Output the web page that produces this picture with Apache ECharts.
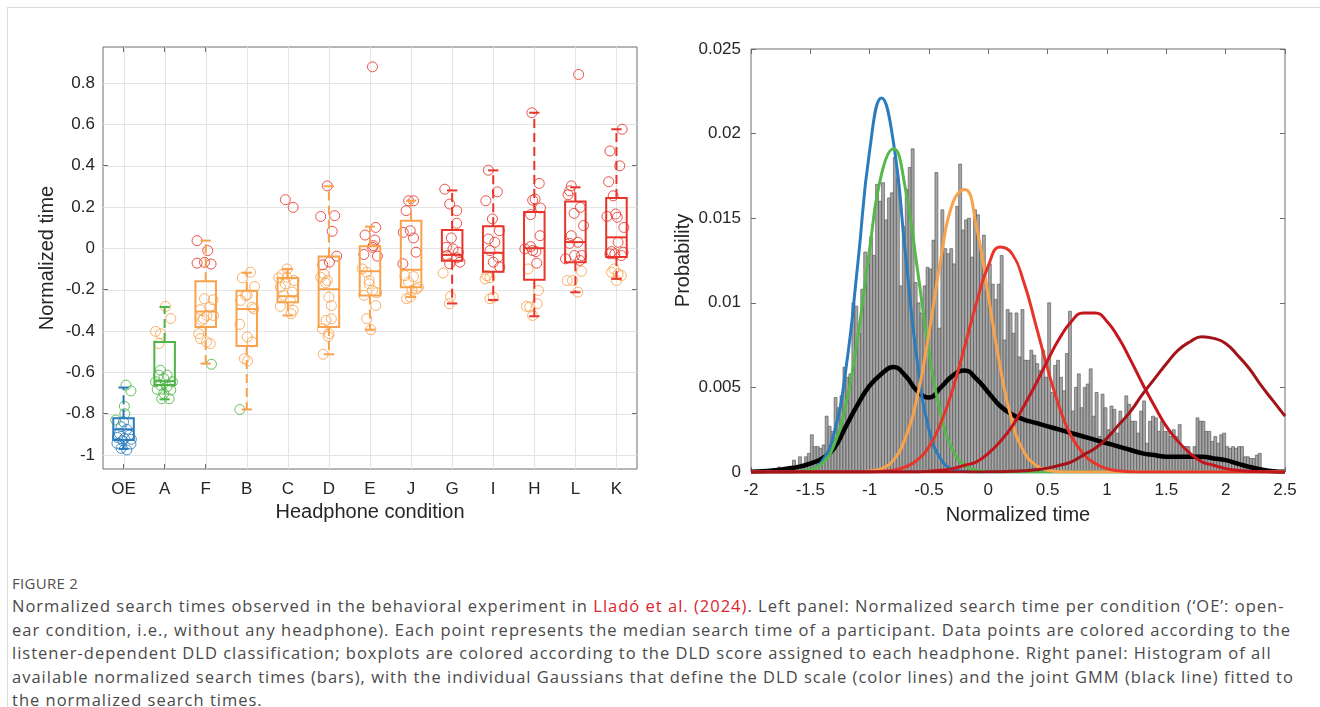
<!DOCTYPE html>
<html>
<head>
<meta charset="utf-8">
<title>Figure 2</title>
<script src="https://cdn.jsdelivr.net/npm/echarts@6/dist/echarts.min.js"></script>
<style>
  html, body { margin: 0; padding: 0; background: #fff; }
  #frame { position: absolute; left: 7px; top: 7px; width: 1330px; height: 720px;
           border-top: 1px solid #dcdcdc; border-left: 1px solid #dcdcdc; }
  #chart { position: absolute; left: 0; top: 0; width: 1320px; height: 545px; }
  #caption { position: absolute; left: 12px; top: 572px; font-family: 'Open Sans', sans-serif; color: #4a4a4a; }
  #caption .fig { font-size: 15px; line-height: 22px; color: #505050; letter-spacing: 0.3px; }
  #caption .txt { font-size: 16.5px; line-height: 23.5px; white-space: nowrap; }
  #caption .ref { color: #d9262e; }
</style>
</head>
<body>
<div id="frame"></div>
<div id="chart"></div>
<div id="caption">
  <div class="fig">FIGURE 2</div>
  <div class="txt" id="line1">Normalized search times observed in the behavioral experiment in <span class="ref">Lladó et al. (2024)</span>. Left panel: Normalized search time per condition (‘OE’: open-</div>
  <div class="txt">ear condition, i.e., without any headphone). Each point represents the median search time of a participant. Data points are colored according to the</div>
  <div class="txt">listener-dependent DLD classification; boxplots are colored according to the DLD score assigned to each headphone. Right panel: Histogram of all</div>
  <div class="txt">available normalized search times (bars), with the individual Gaussians that define the DLD scale (color lines) and the joint GMM (black line) fitted to</div>
  <div class="txt">the normalized search times.</div>
</div>
<script>
  // ---- left panel: headphone conditions ----
  const categories = ['OE', 'A', 'F', 'B', 'C', 'D', 'E', 'J', 'G', 'I', 'H', 'L', 'K'];
  const leftTicks = [-1, -0.8, -0.6, -0.4, -0.2, 0, 0.2, 0.4, 0.6, 0.8];

  // boxplot statistics per condition
  const boxLow  = [-0.971, -0.731, -0.558, -0.78, -0.325, -0.513, -0.394, -0.236, -0.267, -0.25, -0.329, -0.213, -0.148];
  const boxQ1   = [-0.928, -0.662, -0.381, -0.473, -0.261, -0.381, -0.228, -0.188, -0.06, -0.114, -0.152, -0.068, -0.042];
  const boxMed  = [-0.876, -0.643, -0.306, -0.294, -0.232, -0.198, -0.111, -0.104, -0.032, -0.022, 0.0, 0.03, 0.053];
  const boxQ3   = [-0.823, -0.453, -0.159, -0.205, -0.144, -0.04, 0.01, 0.133, 0.089, 0.107, 0.175, 0.226, 0.243];
  const boxHigh = [-0.674, -0.284, 0.037, -0.118, -0.1, 0.3, 0.105, 0.23, 0.28, 0.377, 0.656, 0.295, 0.576];
  const boxClass = [0, 1, 2, 2, 2, 2, 2, 2, 3, 3, 3, 3, 3];   // DLD score of the headphone

  // participant medians, [condition position + jitter, normalized time], by DLD class
  const ptsBlue = [[0.94,-0.863],[1.08,-0.876],[0.9,-0.896],[1.14,-0.904],[1.02,-0.92],[0.84,-0.944],[1.18,-0.947],
    [0.94,-0.968],[1.08,-0.976],[0.98,-0.931],[1.19,-0.924],[0.85,-0.915],[1.0,-0.84]];
  const ptsGreen = [[1.06,-0.662],[1.18,-0.69],[1.02,-0.764],[1.03,-0.80],[0.81,-0.831],
    [1.9,-0.59],[1.86,-0.614],[2.06,-0.614],[1.98,-0.63],[1.78,-0.646],[2.19,-0.646],[1.9,-0.662],[2.06,-0.67],
    [2.15,-0.686],[1.98,-0.702],[1.93,-0.728],[2.11,-0.728],[1.82,-0.683],
    [3.14,-0.561],[3.83,-0.78]];
  const ptsOrange = [[2.02,-0.281],[2.15,-0.34],[1.78,-0.402],[1.9,-0.413],[1.86,-0.461],
    [2.97,-0.244],[3.18,-0.249],[3.1,-0.284],[2.87,-0.297],[3.03,-0.325],[3.19,-0.325],[2.95,-0.341],[2.91,-0.349],
    [2.83,-0.413],[2.87,-0.437],[3.02,-0.453],[3.11,-0.461],
    [4.09,-0.116],[3.89,-0.143],[4.19,-0.185],[4.01,-0.225],[3.97,-0.228],[3.85,-0.252],[4.13,-0.285],[4.17,-0.293],
    [3.83,-0.368],[4.01,-0.429],[4.13,-0.453],[3.94,-0.534],[4.02,-0.545],
    [4.98,-0.1],[4.86,-0.127],[4.78,-0.143],[5.15,-0.156],[4.94,-0.172],[4.82,-0.188],[5.11,-0.212],[4.9,-0.228],
    [5.06,-0.252],[4.82,-0.281],[5.13,-0.3],[5.08,-0.317],[4.98,-0.14],
    [5.88,-0.124],[5.92,-0.167],[5.96,-0.156],[6.0,-0.236],[6.06,-0.277],[5.93,-0.349],[6.06,-0.341],[5.84,-0.389],
    [6.0,-0.413],[5.98,-0.426],[5.86,-0.513],[5.8,-0.14],
    [6.81,-0.1],[6.92,-0.116],[6.98,-0.156],[6.98,-0.172],[7.06,-0.204],[7.16,-0.215],[6.85,-0.228],[7.14,-0.277],
    [6.92,-0.341],[7.02,-0.394],
    [7.85,-0.132],[8.06,-0.137],[7.94,-0.164],[8.18,-0.188],[8.02,-0.204],[7.98,-0.236],[8.14,-0.196],[7.89,-0.244],
    [8.78,-0.12],[8.96,-0.233],[8.93,-0.268],
    [9.84,-0.132],[9.92,-0.143],[9.8,-0.148],[10.0,-0.236],[9.92,-0.244],
    [10.85,-0.1],[11.1,-0.204],[10.81,-0.281],[10.89,-0.284],[11.07,-0.268],[10.96,-0.325],
    [12.15,-0.111],[11.8,-0.156],[11.93,-0.156],[12.06,-0.212],
    [12.94,-0.1],[12.88,-0.116],[13.04,-0.124],[13.12,-0.132],[13.0,-0.156]];
  const ptsRed = [[2.79,0.037],[3.05,-0.011],[2.79,-0.072],[2.97,-0.068],[3.13,-0.076],
    [4.94,0.235],[5.13,0.198],
    [5.96,0.302],[5.8,0.154],[6.14,0.158],[6.08,0.082],[6.19,-0.038],[6.01,-0.067],[5.85,-0.08],
    [7.06,0.878],[7.14,0.101],[6.88,0.064],[7.12,0.04],[7.08,0.013],[7.06,0.005],[6.85,-0.03],[7.18,-0.038],
    [7.94,0.23],[8.06,0.23],[7.88,0.182],[7.81,0.077],[7.98,0.085],[8.06,0.05],[8.12,-0.019],[7.8,-0.075],
    [8.82,0.286],[8.94,0.214],[9.11,0.182],[9.11,0.121],[8.98,0.05],[8.86,0.005],[9.02,-0.003],[9.15,-0.019],
    [8.88,-0.035],[9.11,-0.046],[9.19,-0.067],[8.94,-0.075],
    [9.88,0.378],[10.1,0.273],[9.82,0.23],[9.98,0.142],[10.15,0.085],[9.88,0.045],[10.04,0.029],[9.92,-0.011],
    [10.12,-0.043],[10.0,-0.067],[10.16,-0.091],
    [10.94,0.656],[11.12,0.314],[10.96,0.233],[11.02,0.238],[11.15,0.195],[10.91,0.163],[11.14,0.061],[10.77,-0.003],
    [10.96,-0.011],[11.04,-0.016],[11.06,-0.072],[10.91,0.008],
    [12.08,0.841],[11.9,0.302],[11.86,0.278],[11.82,0.259],[12.12,0.198],[11.97,0.169],[12.2,0.11],[11.9,0.061],
    [12.06,0.029],[11.86,0.024],[11.98,-0.035],[12.15,-0.035],[11.76,-0.051],[12.11,-0.059],
    [13.14,0.576],[12.84,0.471],[13.08,0.399],[12.81,0.322],[12.92,0.254],[12.77,0.154],[12.98,0.166],[13.02,0.15],
    [13.18,0.101],[13.04,0.029],[13.16,-0.019],[12.88,-0.016],[13.12,-0.035],[12.96,-0.027],[12.84,-0.027]];

  // ---- right panel: histogram + GMM ----
  const binStart = -1.8;
  const binWidth = 0.025;
  const histHeights = [
    0.0002,0.0003,0.0001,0.0001,0.0002,0.0002,0.0007,0.0004,0.0009,0.0004,
    0.0009,0.0011,0.0022,0.0015,0.0015,0.0014,0.0016,0.0033,0.0027,0.0024,
    0.0044,0.0038,0.0045,0.0062,0.0056,0.0058,0.0100,0.0098,0.0082,0.0108,
    0.0130,0.0123,0.0139,0.0128,0.0170,0.0160,0.0171,0.0149,0.0162,0.0165,
    0.0186,0.0173,0.0110,0.0145,0.0167,0.0180,0.0191,0.0112,0.0100,0.0094,
    0.0110,0.0121,0.0120,0.0137,0.0177,0.0085,0.0155,0.0132,0.0129,0.0132,
    0.0123,0.0157,0.0182,0.0143,0.0149,0.0150,0.0127,0.0155,0.0152,0.0130,
    0.0140,0.0107,0.0123,0.0111,0.0102,0.0111,0.0128,0.0078,0.0096,0.0094,
    0.0082,0.0094,0.0068,0.0096,0.0066,0.0066,0.0072,0.0069,0.0064,0.0060,
    0.0072,0.0056,0.0100,0.0047,0.0063,0.0066,0.0056,0.0048,0.0070,0.0095,
    0.0036,0.0050,0.0058,0.0038,0.0050,0.0052,0.0061,0.0033,0.0047,0.0021,
    0.0046,0.0038,0.0025,0.0039,0.0037,0.0023,0.0036,0.0030,0.0045,0.0040,
    0.0030,0.0030,0.0023,0.0036,0.0042,0.0017,0.0030,0.0033,0.0032,0.0024,
    0.0030,0.0024,0.0024,0.0021,0.0025,0.0021,0.0028,0.0015,0.0015,0.0015,
    0.0009,0.0015,0.0032,0.0030,0.0030,0.0024,0.0024,0.0018,0.0021,0.0017,
    0.0022,0.0023,0.0015,0.0014,0.0015,0.0014,0.0015,0.0015,0.0009,0.0009,
    0.0008,0.0008,0.0010,0.0011];

  const curveX = [-2,-1.9,-1.8,-1.7,-1.6,-1.5,-1.4,-1.3,-1.2,-1.1,-1,-0.9,-0.8,-0.7,-0.6,-0.5,-0.4,-0.3,-0.2,-0.1,
    0,0.1,0.2,0.3,0.4,0.5,0.6,0.7,0.8,0.9,1,1.1,1.2,1.3,1.4,1.5,1.6,1.7,1.8,1.9,2,2.1,2.2,2.3,2.4,2.5];
  const gaussBlue = [0,0,0,0,0.00002,0.00014,0.00065,0.0023,0.0061,0.0123,0.019,0.0221,0.0195,0.013,0.0066,0.0025,
    0.00075,0.00016,0.00003,0,0,0,0,0,0,0,0,0,0,0,0,0,0,0,0,0,0,0,0,0,0,0,0,0,0,0];
  const gaussGreen = [0,0,0,0,0.00003,0.00014,0.0005,0.0016,0.004,0.008,0.0132,0.0176,0.0191,0.0168,0.0121,0.0071,
    0.0034,0.0013,0.0004,0.0001,0.00002,0,0,0,0,0,0,0,0,0,0,0,0,0,0,0,0,0,0,0,0,0,0,0,0,0];
  const gaussOrange = [0,0,0,0,0,0,0,0,0,0,0.00006,0.0002,0.0007,0.002,0.0044,0.0082,0.0126,0.0159,0.0167,0.0145,
    0.0104,0.0062,0.003,0.0012,0.0004,0.0001,0.00002,0,0,0,0,0,0,0,0,0,0,0,0,0,0,0,0,0,0,0];
  const gaussRed1 = [0,0,0,0,0,0,0,0,0,0,0,0.00004,0.0001,0.0003,0.0007,0.0015,0.0029,0.0049,0.0074,0.01,
    0.0122,0.0133,0.0129,0.0112,0.0087,0.0061,0.0038,0.0021,0.0011,0.0005,0.0002,0.00007,0.00002,0,0,0,0,0,0,0,0,0,0,0,0,0];
  const gaussRed2 = [0,0,0,0,0,0,0,0,0,0,0,0,0,0,0,0.00005,0.0001,0.0002,0.0004,0.0006,
    0.0011,0.0018,0.0027,0.0039,0.0052,0.0066,0.0079,0.0089,0.0094,0.0094,0.0089,0.0079,0.0066,0.0052,0.0039,
    0.0027,0.0018,0.0011,0.0006,0.0004,0.0002,0.0001,0.00005,0.00002,0,0];
  const gaussRed3 = [0,0,0,0,0,0,0,0,0,0,0,0,0,0,0,0,0,0,0,0,
    0.00001,0.00002,0.00004,0.00007,0.00013,0.00023,0.0004,0.0006,0.001,0.0014,0.002,0.0028,0.0036,0.0046,0.0055,
    0.0064,0.0072,0.0077,0.008,0.0079,0.0076,0.0069,0.0061,0.0051,0.0042,0.0033];
  const gmmJoint = [0.00002,0.00005,0.0001,0.0002,0.0003,0.0005,0.0008,0.0014,0.0027,0.004,0.0051,0.0058,0.0062,0.0057,
    0.0048,0.0044,0.005,0.0057,0.006,0.0055,0.0047,0.0039,0.0034,0.0031,0.0029,0.0027,0.0025,0.0023,0.0021,0.0019,
    0.0017,0.0015,0.0013,0.0011,0.001,0.0009,0.0009,0.0009,0.0009,0.0008,0.0007,0.0005,0.0003,0.00015,0.00005,0.00002];

  // ---- styling ----
  const classColors = ['#2b7cbd', '#4fb447', '#f9a24c', '#e8352b'];
  const curveColors = ['#2b7cbd', '#55b84a', '#f9a24c', '#e8352b', '#c4161c', '#a31419'];
  const FONT = 'Liberation Sans';
  const TXT = '#262626';
  const FRAME = '#6e6e6e';
  const GRIDLINE = '#e4e4e4';
  const BOX_HALF = 0.25, CAP_HALF = 0.125;
  const catPos = categories.map((c, i) => i + 1);
  const X0_MIN = 0.5, X0_MAX = 13.5, Y0_MIN = -1.068, Y0_MAX = 0.974;

  const chart = echarts.init(document.getElementById('chart'), null, { renderer: 'canvas' });

  function renderGridLines(params, api) {
    const st = { stroke: GRIDLINE, lineWidth: 1 };
    const kids = [];
    leftTicks.forEach((v) => {
      const a = api.coord([X0_MIN, v]), b = api.coord([X0_MAX, v]);
      kids.push({ type: 'line', shape: { x1: a[0], y1: Math.round(a[1]) + 0.5, x2: b[0], y2: Math.round(b[1]) + 0.5 }, style: st });
    });
    catPos.forEach((p) => {
      const a = api.coord([p, Y0_MIN]), b = api.coord([p, Y0_MAX]);
      kids.push({ type: 'line', shape: { x1: Math.round(a[0]) + 0.5, y1: a[1], x2: Math.round(b[0]) + 0.5, y2: b[1] }, style: st });
    });
    return { type: 'group', children: kids };
  }

  function renderBox(params, api) {
    const x = api.value(0);
    const lo = api.value(1), q1 = api.value(2), md = api.value(3), q3 = api.value(4), hi = api.value(5);
    const col = classColors[boxClass[params.dataIndex]];
    const a = api.coord([x - BOX_HALF, q3]);
    const b = api.coord([x + BOX_HALF, q1]);
    const m = api.coord([x, md])[1];
    const c = api.coord([x, hi]);
    const yLo = api.coord([x, lo])[1];
    const cw = api.coord([x + CAP_HALF, hi])[0] - c[0];
    const solid = { stroke: col, lineWidth: 2, fill: 'transparent' };
    const dashed = { stroke: col, lineWidth: 2, lineDash: [9, 5], fill: 'transparent' };
    return {
      type: 'group',
      children: [
        { type: 'line', shape: { x1: c[0], y1: a[1], x2: c[0], y2: c[1] }, style: dashed },
        { type: 'line', shape: { x1: c[0], y1: b[1], x2: c[0], y2: yLo }, style: dashed },
        { type: 'line', shape: { x1: c[0] - cw, y1: c[1], x2: c[0] + cw, y2: c[1] }, style: solid },
        { type: 'line', shape: { x1: c[0] - cw, y1: yLo, x2: c[0] + cw, y2: yLo }, style: solid },
        { type: 'rect', shape: { x: a[0], y: a[1], width: b[0] - a[0], height: b[1] - a[1] }, style: solid },
        { type: 'line', shape: { x1: a[0], y1: m, x2: b[0], y2: m }, style: solid }
      ]
    };
  }

  function renderBin(params, api) {
    const x0 = api.value(0), h = api.value(1);
    const p0 = api.coord([x0, h]);
    const p1 = api.coord([x0 + binWidth, 0]);
    return {
      type: 'rect',
      shape: { x: p0[0], y: p0[1], width: p1[0] - p0[0], height: p1[1] - p0[1] },
      style: { fill: '#a6a6a6', stroke: '#444', lineWidth: 0.55 }
    };
  }

  function scatter(name, pts, col) {
    return {
      name: name, type: 'scatter', xAxisIndex: 0, yAxisIndex: 0,
      data: pts, symbol: 'circle', symbolSize: 10,
      itemStyle: { color: 'rgba(255,255,255,0)', borderColor: col, borderWidth: 1, opacity: 0.85 },
      z: 2
    };
  }

  function curve(name, ys, col, width, z) {
    return {
      name: name, type: 'line', xAxisIndex: 2, yAxisIndex: 2,
      data: curveX.map((x, k) => [x, ys[k]]),
      smooth: true, showSymbol: false,
      lineStyle: { color: col, width: width }, z: z
    };
  }

  const tickCustom = (vals) => ({ show: true, inside: true, length: 5, lineStyle: { color: FRAME }, customValues: vals });
  const tickAuto = { show: true, inside: true, length: 5, lineStyle: { color: FRAME } };
  const noLine = { show: false, onZero: false };
  const labelStyle = { color: TXT, fontSize: 17, fontFamily: FONT };
  const nameStyle = { color: TXT, fontSize: 20, fontFamily: FONT };

  const option = {
    animation: false,
    textStyle: { fontFamily: FONT },
    grid: [
      { left: 103, top: 47, width: 534, height: 422, show: true, borderColor: FRAME, borderWidth: 1, backgroundColor: '#fff' },
      { left: 751, top: 49, width: 534, height: 423, show: true, borderColor: FRAME, borderWidth: 1, backgroundColor: '#fff' }
    ],
    xAxis: [
      { gridIndex: 0, type: 'value', min: X0_MIN, max: X0_MAX, position: 'bottom',
        axisLine: noLine, axisTick: tickCustom(catPos),
        axisLabel: Object.assign({ margin: 12, customValues: catPos, formatter: (v) => categories[Math.round(v) - 1] }, labelStyle),
        splitLine: { show: false },
        name: 'Headphone condition', nameLocation: 'middle', nameGap: 33, nameTextStyle: nameStyle },
      { gridIndex: 0, type: 'value', min: X0_MIN, max: X0_MAX, position: 'top',
        axisLine: noLine, axisTick: tickCustom(catPos), axisLabel: { show: false, customValues: catPos },
        splitLine: { show: false } },
      { gridIndex: 1, type: 'value', min: -2, max: 2.5, interval: 0.5, position: 'bottom',
        axisLine: noLine, axisTick: tickAuto,
        axisLabel: Object.assign({ margin: 10 }, labelStyle), splitLine: { show: false },
        name: 'Normalized time', nameLocation: 'middle', nameGap: 33, nameTextStyle: nameStyle },
      { gridIndex: 1, type: 'value', min: -2, max: 2.5, interval: 0.5, position: 'top',
        axisLine: noLine, axisTick: tickAuto, axisLabel: { show: false }, splitLine: { show: false } }
    ],
    yAxis: [
      { gridIndex: 0, type: 'value', min: Y0_MIN, max: Y0_MAX, position: 'left',
        axisLine: noLine, axisTick: tickCustom(leftTicks),
        axisLabel: Object.assign({ margin: 8, customValues: leftTicks }, labelStyle),
        splitLine: { show: false },
        name: 'Normalized time', nameLocation: 'middle', nameGap: 46, nameTextStyle: nameStyle },
      { gridIndex: 0, type: 'value', min: Y0_MIN, max: Y0_MAX, position: 'right',
        axisLine: noLine, axisTick: tickCustom(leftTicks), axisLabel: { show: false, customValues: leftTicks },
        splitLine: { show: false } },
      { gridIndex: 1, type: 'value', min: 0, max: 0.025, interval: 0.005, position: 'left',
        axisLine: noLine, axisTick: tickAuto,
        axisLabel: Object.assign({ margin: 10 }, labelStyle), splitLine: { show: false },
        name: 'Probability', nameLocation: 'middle', nameGap: 58, nameTextStyle: nameStyle },
      { gridIndex: 1, type: 'value', min: 0, max: 0.025, interval: 0.005, position: 'right',
        axisLine: noLine, axisTick: tickAuto, axisLabel: { show: false }, splitLine: { show: false } }
    ],
    series: [
      {
        name: 'grid lines', type: 'custom', xAxisIndex: 0, yAxisIndex: 0, silent: true,
        renderItem: renderGridLines, data: [[1, 0]], z: 1
      },
      scatter('blue', ptsBlue, classColors[0]),
      scatter('green', ptsGreen, classColors[1]),
      scatter('orange', ptsOrange, classColors[2]),
      scatter('red', ptsRed, classColors[3]),
      {
        name: 'boxes', type: 'custom', xAxisIndex: 0, yAxisIndex: 0,
        renderItem: renderBox,
        encode: { x: 0, y: [1, 2, 3, 4, 5] },
        data: catPos.map((p, i) => [p, boxLow[i], boxQ1[i], boxMed[i], boxQ3[i], boxHigh[i]]),
        z: 3
      },
      {
        name: 'histogram', type: 'custom', xAxisIndex: 2, yAxisIndex: 2,
        renderItem: renderBin, clip: true,
        encode: { x: 0, y: 1 },
        data: histHeights.map((h, k) => [binStart + k * binWidth, h]),
        z: 2
      },
      curve('GMM', gmmJoint, '#000000', 4.5, 3),
      curve('g1', gaussBlue, curveColors[0], 3, 4),
      curve('g2', gaussGreen, curveColors[1], 3, 4),
      curve('g3', gaussOrange, curveColors[2], 3, 4),
      curve('g4', gaussRed1, curveColors[3], 3, 4),
      curve('g5', gaussRed2, curveColors[4], 3, 4),
      curve('g6', gaussRed3, curveColors[5], 3, 4)
    ]
  };

  chart.setOption(option);

  // caption tracking: stretch the first line to the width it has in the figure
  const l1 = document.getElementById('line1');
  const n1 = l1.textContent.length;
  const ls = (1278 - l1.getBoundingClientRect().width) / n1;
  document.querySelectorAll('#caption .txt').forEach((el) => { el.style.letterSpacing = ls.toFixed(3) + 'px'; });
</script>
</body>
</html>
